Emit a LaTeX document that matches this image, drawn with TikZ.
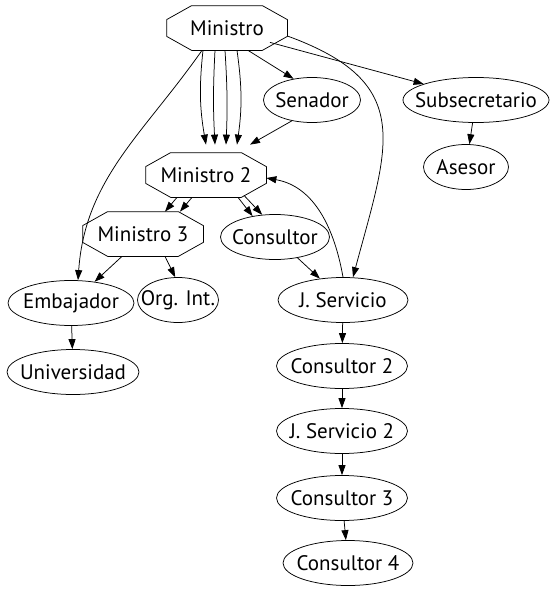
\documentclass[tikz,border=0pt]{standalone}
\usepackage{fontspec}
\setmainfont{PT Sans}
\usetikzlibrary{shapes.geometric,arrows.meta}

\begin{document}
\begin{tikzpicture}[x=1pt,y=-1pt,font=\fontsize{21}{24}\selectfont,line width=0.75pt,
  octa/.style={rectangle,minimum width=120pt,minimum height=44pt,inner sep=0pt},
  oval/.style={ellipse,draw,minimum width=#1,minimum height=45pt,inner sep=0pt,
    execute at begin node={\hbox to 0pt\bgroup\hss},execute at end node={\hss\egroup}},
  >={Triangle[length=10pt,width=7pt]}]
\useasboundingbox (0,0) rectangle (549,589);
\node[octa] at (227,28) (m1) {Ministro};
\node[oval=97pt] at (312,100) (sen) {Senador};
\node[oval=146pt] at (476,100) (sub) {Subsecretario};
\node[oval=85pt] at (466,167) (ase) {Asesor};
\node[octa] at (206,175) (m2) {Ministro 2};
\node[octa] at (143,234) (m3) {Ministro 3};
\node[oval=109pt] at (275,237) (con) {Consultor};
\node[oval=126pt] at (71,303) (emb) {Embajador};
\node[oval=81pt] at (178,300) (org) {Org. Int.};
\node[oval=132pt] at (73,372) (uni) {Universidad};
\node[oval=130pt] at (343,300) (js) {J. Servicio};
\node[oval=131pt] at (342,366) (con2) {Consultor 2};
\node[oval=131pt] at (342,431) (js2) {J. Servicio 2};
\node[oval=131pt] at (342,498) (con3) {Consultor 3};
\node[oval=130pt] at (348,563) (con4) {Consultor 4};
% octagons
\foreach \n in {m1,m2,m3}
  \draw ([xshift=25pt]\n.north west) -- ([xshift=-25pt]\n.north east) -- ([yshift=-14pt]\n.north east)
    -- ([yshift=14pt]\n.south east) -- ([xshift=-25pt]\n.south east) -- ([xshift=25pt]\n.south west)
    -- ([yshift=14pt]\n.south west) -- ([yshift=-14pt]\n.north west) -- cycle;
% Ministro
\foreach \a/\b/\bend in {-24/0/8,-12/9/3,-2/20/-3,10/31/-8}
  \draw[->] ([xshift=\a pt]m1.south) to[bend right=\bend] ([xshift=\b pt,yshift=8pt]m2.north);
\draw[->] ([xshift=21pt]m1.south) -- (sen.131);
\draw[->] ([xshift=43pt,yshift=8pt]m1.south) -- (sub.163);
\draw[->] ([xshift=-25pt]m1.south) to[out=-125,in=86] ([xshift=7pt]emb.north);
\draw[->] ([yshift=-8pt]m1.east) to[out=-20,in=75,looseness=1.4] ([xshift=10pt]js.north);
\draw[->] (sen.226) -- ([xshift=44pt,yshift=8pt]m2.north);
\draw[->] (sub) -- (ase);
% Ministro 2
\draw[->] ([xshift=-29pt]m2.south) -- ([xshift=22pt]m3.north);
\draw[->] ([xshift=-14pt]m2.south) -- ([xshift=37pt]m3.north);
\draw[->] ([xshift=32pt]m2.south) -- (con.137);
\draw[->] ([xshift=38pt,yshift=2pt]m2.south) -- (con.120);
% Ministro 3
\draw[->] ([xshift=-21pt]m3.south) -- (emb.42);
\draw[->] ([xshift=22pt]m3.south) -- (org.97);
\draw[->] (emb) -- (uni);
% servicio
\draw[->] (con) -- (js);
\draw[->] (js.north) to[out=100,in=-10] ([yshift=-3pt]m2.east);
\draw[->] (js) -- (con2);
\draw[->] (con2) -- (js2);
\draw[->] (js2) -- (con3);
\draw[->] (con3) -- (con4);
\end{tikzpicture}
\end{document}
